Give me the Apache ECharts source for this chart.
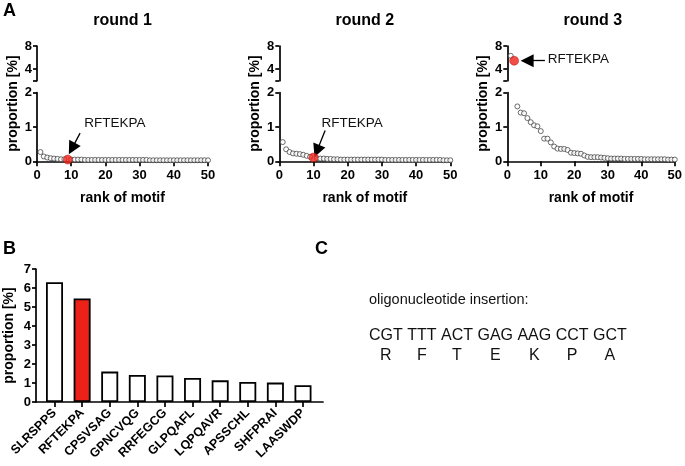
<!DOCTYPE html>
<html><head><meta charset="utf-8">
<script src="https://cdn.jsdelivr.net/npm/echarts@6/dist/echarts.min.js"></script>
<style>html,body{margin:0;padding:0;background:#fff}#c{width:685px;height:466px}</style>
</head><body><div id="c"></div>
<script>
// ---------------- DATA ----------------
const roundNames = ['round 1', 'round 2', 'round 3'];
const round1 = [0.27,0.14,0.11,0.09,0.08,0.07,0.06,0.06,0.05,0.05, 0.05,0.05,0.05,0.04,0.04,0.04,0.04,0.04,0.04,0.04, 0.04,0.04,0.04,0.04,0.04,0.04,0.04,0.04,0.04,0.04, 0.04,0.04,0.03,0.03,0.03,0.03,0.03,0.03,0.03,0.03, 0.03,0.03,0.03,0.03,0.03,0.03,0.03,0.03,0.03,0.03];
const round2 = [0.56,0.35,0.27,0.23,0.22,0.21,0.19,0.16,0.13,0.11, 0.09,0.08,0.08,0.07,0.07,0.06,0.06,0.05,0.05,0.05, 0.05,0.05,0.05,0.05,0.05,0.05,0.05,0.05,0.05,0.05, 0.04,0.04,0.04,0.04,0.04,0.04,0.04,0.04,0.04,0.04, 0.04,0.04,0.04,0.04,0.04,0.04,0.04,0.03,0.03,0.03];
const round3 = [6.3,5.45,1.6,1.42,1.4,1.26,1.14,1.05,1.02,0.88, 0.66,0.66,0.55,0.43,0.37,0.36,0.36,0.33,0.25,0.24, 0.23,0.22,0.17,0.13,0.12,0.12,0.12,0.11,0.10,0.09, 0.08,0.08,0.08,0.08,0.07,0.07,0.07,0.07,0.07,0.07, 0.06,0.06,0.06,0.06,0.06,0.06,0.06,0.05,0.05,0.05];
const rounds = [round1, round2, round3];
const highlightMotif = 'RFTEKPA';
const highlightRank = [9, 10, 2];
const xTicks = [0, 10, 20, 30, 40, 50];
const yLowerTicks = [0, 1, 2];
const yUpperTicks = [4, 8];

const motifs = ['SLRSPPS','RFTEKPA','CPSVSAG','GPNCVQG','RRFEGCG','GLPQAFL','LQPQAVR','APSSCHL','SHFPRAI','LAASWDP'];
const motifValues = [6.3, 5.45, 1.6, 1.42, 1.4, 1.26, 1.14, 1.05, 1.02, 0.88];
const barYTicks = [0,1,2,3,4,5,6,7];

const insertionTitle = 'oligonucleotide insertion:';
const codons = ['CGT','TTT','ACT','GAG','AAG','CCT','GCT'];
const aminoAcids = ['R','F','T','E','K','P','A'];

// ---------------- LAYOUT / STYLE ----------------
const FONT = '"Liberation Sans", Arial, Helvetica, sans-serif';
const RED = '#ec2218';
const AX = {color: '#000', width: 1.7};
const BREAK = 2;
const roundLefts = [37, 279.3, 507.3];
const roundW = 171;
const upperTop = 46, upperH = 34.7, lowerTop = 92.7, lowerH = 68.6;
// annotation anchors in data units
const annot = [
  {from: [12.6, 0.82], to: [10.2, 0.37], text: [22.8, 1.12], pos: 'inside'},
  {from: [13.4, 0.90], to: [11.0, 0.30], text: [21.3, 1.10], pos: 'inside'},
  {from: [11.0, 5.45], to: [5.8, 5.45], text: [11.8, 5.65], pos: 'right'}
];

const grids = [], xAxes = [], yAxes = [], series = [], graphics = [];
const tickLabel = {color: '#000', fontWeight: 'bold', fontSize: 13, fontFamily: FONT};

rounds.forEach((vals, r) => {
  const L = roundLefts[r];
  const gu = grids.length, gl = gu + 1;
  grids.push({left: L, top: upperTop, width: roundW, height: upperH});
  grids.push({left: L, top: lowerTop, width: roundW, height: lowerH});
  xAxes.push({gridIndex: gu, type: 'value', min: 0, max: 50, show: false});
  xAxes.push({gridIndex: gl, type: 'value', min: xTicks[0], max: xTicks[xTicks.length-1], interval: xTicks[1]-xTicks[0],
    axisLine: {show: true, lineStyle: AX}, axisTick: {show: true, length: 5, lineStyle: AX},
    axisLabel: Object.assign({margin: 8}, tickLabel), splitLine: {show: false},
    name: 'rank of motif', nameLocation: 'middle', nameGap: 30,
    nameTextStyle: {color: '#000', fontWeight: 'bold', fontSize: 14, fontFamily: FONT}});
  yAxes.push({gridIndex: gu, type: 'value', min: BREAK, max: 8,
    axisLine: {show: true, lineStyle: AX},
    axisTick: {show: true, length: 4, lineStyle: AX, customValues: [BREAK].concat(yUpperTicks)},
    axisLabel: Object.assign({margin: 5, customValues: yUpperTicks}, tickLabel), splitLine: {show: false}});
  yAxes.push({gridIndex: gl, type: 'value', min: yLowerTicks[0], max: yLowerTicks[yLowerTicks.length-1], interval: 1,
    axisLine: {show: true, lineStyle: AX}, axisTick: {show: true, length: 4, lineStyle: AX},
    axisLabel: Object.assign({margin: 5}, tickLabel), splitLine: {show: false}});

  const hi = highlightRank[r];
  const up = [], low = [];
  vals.forEach((v, i) => {
    if (i + 1 === hi) return;
    (v > BREAK ? up : low).push([i + 1, v]);
  });
  const base = {type: 'scatter', symbol: 'circle', symbolSize: 5, clip: false, silent: true,
    itemStyle: {color: '#fff', borderColor: '#333', borderWidth: 0.9}};
  series.push(Object.assign({}, base, {xAxisIndex: gu, yAxisIndex: gu, data: up}));
  series.push(Object.assign({}, base, {xAxisIndex: gl, yAxisIndex: gl, data: low}));
  const hv = vals[hi - 1];
  const hg = hv > BREAK ? gu : gl;
  const a = annot[r];
  series.push({type: 'scatter', xAxisIndex: hg, yAxisIndex: hg, z: 5, clip: false, silent: true,
    symbol: 'circle', symbolSize: 9,
    itemStyle: {color: RED, borderColor: '#a80000', borderWidth: 0.5},
    data: [[hi, hv]],
    markLine: {silent: true, symbol: ['none', 'triangle'], symbolSize: 13, animation: false,
      lineStyle: {color: '#000', width: 1.3, type: 'solid'}, label: {show: false},
      itemStyle: {color: '#000'},
      data: [[{coord: a.from}, {coord: a.to}]]},
    markPoint: {symbol: 'circle', symbolSize: 0, silent: true, animation: false,
      label: {show: true, position: a.pos, distance: 0, formatter: highlightMotif,
        color: '#111', fontSize: 13.5, fontFamily: FONT},
      data: [{coord: a.text}]}
  });

  const cx = L + roundW / 2;
  graphics.push({type: 'text', x: cx, y: 21, style: {text: roundNames[r], font: 'bold 16px ' + FONT, fill: '#000', align: 'center', verticalAlign: 'middle'}});
  graphics.push({type: 'text', x: L - 24.3, y: (upperTop + lowerTop + lowerH) / 2, rotation: Math.PI / 2,
    style: {text: 'proportion [%]', font: 'bold 14px ' + FONT, fill: '#000', align: 'center', verticalAlign: 'middle'}});
});

// ---------- panel B ----------
const bg = grids.length;
grids.push({left: 40.7, top: 269, width: 276.1, height: 133});
grids.push({left: 36, top: 269, width: 287, height: 133});
xAxes.push({gridIndex: bg, type: 'category', data: motifs, boundaryGap: true,
  axisLine: {show: false}, axisTick: {show: true, alignWithLabel: true, length: 5, lineStyle: AX},
  axisLabel: {interval: 0, rotate: 45, margin: 9, color: '#000', fontWeight: 'bold', fontSize: 12.5, fontFamily: FONT}});
xAxes.push({gridIndex: bg + 1, type: 'value', min: 0, max: 1, axisLine: {show: true, onZero: false, lineStyle: AX},
  axisTick: {show: false}, axisLabel: {show: false}, splitLine: {show: false}});
yAxes.push({gridIndex: bg, type: 'value', min: barYTicks[0], max: barYTicks[barYTicks.length-1], interval: 1, offset: 4.7,
  axisLine: {show: true, lineStyle: AX}, axisTick: {show: true, length: 4, lineStyle: AX},
  axisLabel: Object.assign({margin: 5}, tickLabel), splitLine: {show: false},
  name: 'proportion [%]', nameLocation: 'middle', nameGap: 20,
  nameTextStyle: {color: '#000', fontWeight: 'bold', fontSize: 14, fontFamily: FONT}});
yAxes.push({gridIndex: bg + 1, type: 'value', show: false});
series.push({type: 'bar', xAxisIndex: bg, yAxisIndex: bg, barWidth: 17, silent: true,
  data: motifValues.map((v, i) => ({value: v,
    itemStyle: {color: motifs[i] === highlightMotif ? RED : '#fff', borderColor: '#000', borderWidth: 1.8}}))});

// ---------- panel letters ----------
[['A', 3, 11.5], ['B', 3, 249], ['C', 315, 249]].forEach(([t, x, y]) => {
  graphics.push({type: 'text', x: x, y: y, style: {text: t, font: 'bold 18px ' + FONT, fill: '#000', verticalAlign: 'middle'}});
});

// ---------- panel C ----------
const cx0 = 369;
graphics.push({type: 'text', x: cx0, y: 300, style: {text: insertionTitle, font: '14.5px ' + FONT, fill: '#111', verticalAlign: 'middle'}});
const ctx = document.createElement('canvas').getContext('2d');
const seqFont = '16px ' + FONT;
ctx.font = seqFont;
const spaceW = ctx.measureText(' ').width;
let xx = cx0;
codons.forEach((c, i) => {
  const w = ctx.measureText(c).width;
  graphics.push({type: 'text', x: xx, y: 336, style: {text: c, font: seqFont, fill: '#111', verticalAlign: 'middle'}});
  graphics.push({type: 'text', x: xx + w / 2, y: 356, style: {text: aminoAcids[i], font: seqFont, fill: '#111', align: 'center', verticalAlign: 'middle'}});
  xx += w + spaceW;
});

const chart = echarts.init(document.getElementById('c'), null, {renderer: 'canvas'});
chart.setOption({
  animation: false,
  backgroundColor: '#fff',
  grid: grids, xAxis: xAxes, yAxis: yAxes, series: series,
  graphic: graphics
});
</script></body></html>
